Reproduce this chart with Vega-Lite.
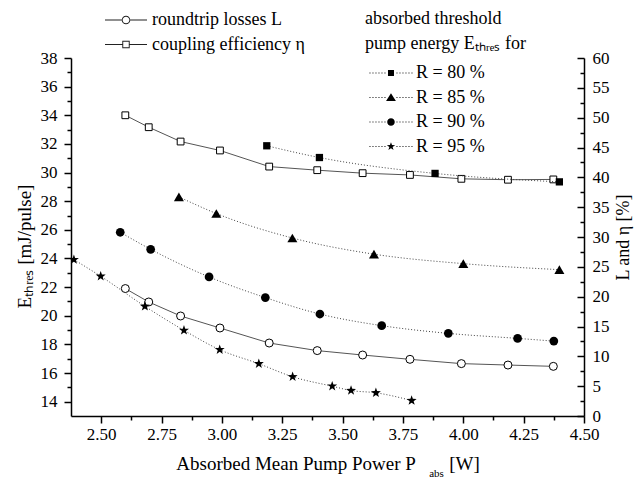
{
  "$schema": "https://vega.github.io/schema/vega-lite/v6.json",
  "width": 513,
  "height": 358,
  "autosize": {"type": "none"},
  "padding": {"left": 71, "top": 58, "right": 55, "bottom": 63},
  "background": "white",
  "config": {
    "view": {"stroke": null},
    "font": "Liberation Serif",
    "axis": {
      "domainColor": "black", "domainWidth": 1.5, "tickColor": "black", "tickWidth": 1.5,
      "labelFont": "Liberation Serif", "labelFontSize": 17, "labelColor": "black",
      "titleFont": "Liberation Serif", "titleFontSize": 19, "titleFontWeight": "normal", "titleColor": "black",
      "grid": false, "labelOverlap": false, "labelFlush": false
    },
    "legend": {
      "labelFont": "Liberation Serif", "labelFontSize": 18, "labelColor": "black",
      "titleFont": "Liberation Serif", "titleFontSize": 18, "titleFontWeight": "normal", "titleColor": "black",
      "padding": 0
    }
  },
  "data": {
    "values": [
      {"series": "coupling efficiency η", "grp": "LE", "P": 2.600, "v": 50.4},
      {"series": "coupling efficiency η", "grp": "LE", "P": 2.697, "v": 48.4},
      {"series": "coupling efficiency η", "grp": "LE", "P": 2.829, "v": 46.0},
      {"series": "coupling efficiency η", "grp": "LE", "P": 2.992, "v": 44.5},
      {"series": "coupling efficiency η", "grp": "LE", "P": 3.196, "v": 41.8},
      {"series": "coupling efficiency η", "grp": "LE", "P": 3.395, "v": 41.2},
      {"series": "coupling efficiency η", "grp": "LE", "P": 3.583, "v": 40.7},
      {"series": "coupling efficiency η", "grp": "LE", "P": 3.779, "v": 40.4},
      {"series": "coupling efficiency η", "grp": "LE", "P": 3.992, "v": 39.75},
      {"series": "coupling efficiency η", "grp": "LE", "P": 4.185, "v": 39.6},
      {"series": "coupling efficiency η", "grp": "LE", "P": 4.373, "v": 39.65},
      {"series": "roundtrip losses L", "grp": "LE", "P": 2.600, "v": 21.36},
      {"series": "roundtrip losses L", "grp": "LE", "P": 2.697, "v": 19.11},
      {"series": "roundtrip losses L", "grp": "LE", "P": 2.829, "v": 16.76},
      {"series": "roundtrip losses L", "grp": "LE", "P": 2.992, "v": 14.75},
      {"series": "roundtrip losses L", "grp": "LE", "P": 3.196, "v": 12.23},
      {"series": "roundtrip losses L", "grp": "LE", "P": 3.395, "v": 10.96},
      {"series": "roundtrip losses L", "grp": "LE", "P": 3.583, "v": 10.22},
      {"series": "roundtrip losses L", "grp": "LE", "P": 3.779, "v": 9.5},
      {"series": "roundtrip losses L", "grp": "LE", "P": 3.992, "v": 8.78},
      {"series": "roundtrip losses L", "grp": "LE", "P": 4.185, "v": 8.54},
      {"series": "roundtrip losses L", "grp": "LE", "P": 4.373, "v": 8.32},
      {"series": "R = 80 %", "grp": "E", "P": 3.186, "v": 31.87},
      {"series": "R = 80 %", "grp": "E", "P": 3.404, "v": 31.05},
      {"series": "R = 80 %", "grp": "E", "P": 3.883, "v": 29.94},
      {"series": "R = 80 %", "grp": "E", "P": 4.398, "v": 29.35},
      {"series": "R = 85 %", "grp": "E", "P": 2.822, "v": 28.3},
      {"series": "R = 85 %", "grp": "E", "P": 2.977, "v": 27.14},
      {"series": "R = 85 %", "grp": "E", "P": 3.292, "v": 25.43},
      {"series": "R = 85 %", "grp": "E", "P": 3.630, "v": 24.3},
      {"series": "R = 85 %", "grp": "E", "P": 4.000, "v": 23.64},
      {"series": "R = 85 %", "grp": "E", "P": 4.398, "v": 23.22},
      {"series": "R = 90 %", "grp": "E", "P": 2.579, "v": 25.83},
      {"series": "R = 90 %", "grp": "E", "P": 2.705, "v": 24.64},
      {"series": "R = 90 %", "grp": "E", "P": 2.947, "v": 22.71},
      {"series": "R = 90 %", "grp": "E", "P": 3.180, "v": 21.27},
      {"series": "R = 90 %", "grp": "E", "P": 3.406, "v": 20.12},
      {"series": "R = 90 %", "grp": "E", "P": 3.662, "v": 19.31},
      {"series": "R = 90 %", "grp": "E", "P": 3.938, "v": 18.77},
      {"series": "R = 90 %", "grp": "E", "P": 4.225, "v": 18.42},
      {"series": "R = 90 %", "grp": "E", "P": 4.375, "v": 18.23},
      {"series": "R = 95 %", "grp": "E", "P": 2.387, "v": 23.92},
      {"series": "R = 95 %", "grp": "E", "P": 2.498, "v": 22.76},
      {"series": "R = 95 %", "grp": "E", "P": 2.681, "v": 20.66},
      {"series": "R = 95 %", "grp": "E", "P": 2.843, "v": 18.98},
      {"series": "R = 95 %", "grp": "E", "P": 2.991, "v": 17.63},
      {"series": "R = 95 %", "grp": "E", "P": 3.153, "v": 16.65},
      {"series": "R = 95 %", "grp": "E", "P": 3.293, "v": 15.74},
      {"series": "R = 95 %", "grp": "E", "P": 3.457, "v": 15.08},
      {"series": "R = 95 %", "grp": "E", "P": 3.535, "v": 14.78},
      {"series": "R = 95 %", "grp": "E", "P": 3.638, "v": 14.62},
      {"series": "R = 95 %", "grp": "E", "P": 3.786, "v": 14.08}
    ]
  },
  "layer": [
    {
      "encoding": {
        "x": {
          "field": "P", "type": "quantitative",
          "scale": {"domain": [2.375, 4.5], "nice": false, "zero": false},
          "axis": {
            "orient": "bottom",
            "title": "Absorbed Mean Pump Power P\u00a0\u00a0\u00a0\u00a0\u00a0\u00a0\u00a0[W]",
            "values": [2.5, 2.75, 3, 3.25, 3.5, 3.75, 4, 4.25, 4.5],
            "format": ".2f",
            "tickSize": 7,
            "labelPadding": 3,
            "titlePadding": 12
          }
        }
      },
      "layer": [
        {
          "encoding": {
            "y": {
              "field": "v", "type": "quantitative",
              "scale": {"domain": [0, 60], "nice": false, "zero": false},
              "axis": {
                "orient": "right",
                "title": "L and η [%]",
                "titleAngle": -90,
                "titleBaseline": "top",
                "titlePadding": 5,
                "titleFontSize": 18,
                "values": [0, 5, 10, 15, 20, 25, 30, 35, 40, 45, 50, 55, 60],
                "ticks": false,
                "tickSize": 0,
                "labelPadding": 8
              }
            }
          },
          "layer": [
            {
              "transform": [{"filter": "datum.grp === 'LE'"}],
              "mark": {"type": "line", "color": "#555", "strokeWidth": 1},
              "encoding": {"detail": {"field": "series", "type": "nominal"}}
            },
            {
              "transform": [{"filter": "datum.series === 'roundtrip losses L'"}],
              "mark": {"type": "point", "shape": "circle", "filled": false, "fill": "white", "stroke": "black", "strokeWidth": 1, "opacity": 1, "size": 64}
            },
            {
              "transform": [{"filter": "datum.series === 'coupling efficiency η'"}],
              "mark": {"type": "point", "shape": "square", "filled": false, "fill": "white", "stroke": "black", "strokeWidth": 1, "opacity": 1, "size": 46}
            },
            {
              "transform": [{"filter": "false"}],
              "mark": {"type": "point", "filled": true, "color": "#222", "opacity": 1},
              "encoding": {
                "shape": {
                  "field": "series", "type": "nominal",
                  "scale": {
                    "domain": ["roundtrip losses L", "coupling efficiency η"],
                    "range": [
                      "M-3.5,-0.09L-0.72,-0.09L-0.72,0.09L-3.5,0.09ZM0.72,-0.09L3.5,-0.09L3.5,0.09L0.72,0.09ZM-0.72,0A0.72,0.72,0,1,1,0.72,0A0.72,0.72,0,1,1,-0.72,0ZM-0.56,0A0.56,0.56,0,1,0,0.56,0A0.56,0.56,0,1,0,-0.56,0Z",
                      "M-3.5,-0.09L-0.62,-0.09L-0.62,0.09L-3.5,0.09ZM0.62,-0.09L3.5,-0.09L3.5,0.09L0.62,0.09ZM-0.62,-0.62L0.62,-0.62L0.62,0.62L-0.62,0.62ZM-0.46,-0.46L-0.46,0.46L0.46,0.46L0.46,-0.46Z"
                    ]
                  },
                  "legend": {
                    "title": null, "orient": "none", "legendX": 46, "legendY": -47,
                    "symbolSize": 144, "labelOffset": 17, "rowPadding": 6.5,
                    "symbolFillColor": "#222", "symbolStrokeColor": "transparent", "symbolStrokeWidth": 0, "symbolOpacity": 1
                  }
                }
              }
            }
          ]
        },
        {
          "transform": [{"filter": "datum.grp === 'LE'"}],
          "mark": {"type": "point", "opacity": 0},
          "encoding": {
            "y": {
              "field": "v", "type": "quantitative",
              "scale": {"domain": [0, 60], "nice": false, "zero": false},
              "axis": {
                "orient": "left", "offset": -513, "title": null, "labels": false, "domain": false,
                "values": [0, 5, 10, 15, 20, 25, 30, 35, 40, 45, 50, 55, 60], "tickSize": 7
              }
            }
          }
        },
        {
          "transform": [{"filter": "datum.grp === 'LE'"}],
          "mark": {"type": "point", "opacity": 0},
          "encoding": {
            "y": {
              "field": "v", "type": "quantitative",
              "scale": {"domain": [0, 60], "nice": false, "zero": false},
              "axis": {
                "orient": "left", "offset": -513, "title": null, "labels": false, "domain": false,
                "values": [2.5, 7.5, 12.5, 17.5, 22.5, 27.5, 32.5, 37.5, 42.5, 47.5, 52.5, 57.5], "tickSize": 4
              }
            }
          }
        }
      ],
      "resolve": {"axis": {"y": "independent"}}
    },
    {
      "encoding": {
        "x": {
          "field": "P", "type": "quantitative",
          "scale": {"domain": [2.375, 4.5], "nice": false, "zero": false},
          "axis": {
            "orient": "bottom", "labels": false, "domain": false,
            "values": [2.625, 2.875, 3.125, 3.375, 3.625, 3.875, 4.125, 4.375],
            "tickSize": 4,
            "title": "abs", "titleFontSize": 11, "titleX": 365, "titleY": 57, "titleAlign": "center", "titleBaseline": "middle", "titleAngle": 0
          }
        }
      },
      "layer": [
        {
          "encoding": {
            "y": {
              "field": "v", "type": "quantitative",
              "scale": {"domain": [13, 38], "nice": false, "zero": false},
              "axis": {
                "orient": "left",
                "title": "Eₜₕᵣₑₛ [mJ/pulse]",
                "titlePadding": 6,
                "titleY": 188,
                "values": [14, 16, 18, 20, 22, 24, 26, 28, 30, 32, 34, 36, 38],
                "tickSize": 7,
                "labelPadding": 7
              }
            }
          },
          "layer": [
            {
              "transform": [{"filter": "datum.grp === 'E'"}],
              "mark": {"type": "line", "interpolate": "monotone", "color": "#444", "strokeWidth": 1, "strokeDash": [1, 2]},
              "encoding": {"detail": {"field": "series", "type": "nominal"}}
            },
            {
              "transform": [{"filter": "datum.series === 'R = 80 %'"}],
              "mark": {"type": "point", "shape": "square", "filled": true, "color": "black", "opacity": 1, "size": 53}
            },
            {
              "transform": [{"filter": "datum.series === 'R = 85 %'"}],
              "mark": {"type": "point", "shape": "triangle-up", "filled": true, "color": "black", "opacity": 1, "size": 100}
            },
            {
              "transform": [{"filter": "datum.series === 'R = 90 %'"}],
              "mark": {"type": "point", "shape": "circle", "filled": true, "color": "black", "opacity": 1, "size": 76}
            },
            {
              "transform": [{"filter": "datum.series === 'R = 95 %'"}],
              "mark": {"type": "point", "shape": "M0,-1L0.2351,-0.3236L0.9511,-0.309L0.3804,0.1236L0.5878,0.809L0,0.4L-0.5878,0.809L-0.3804,0.1236L-0.9511,-0.309L-0.2351,-0.3236Z", "filled": true, "color": "black", "opacity": 1, "size": 110}
            },
            {
              "transform": [{"filter": "false"}],
              "mark": {"type": "point", "filled": true, "color": "black", "opacity": 1},
              "encoding": {
                "shape": {
                  "field": "series", "type": "nominal",
                  "scale": {
                    "domain": ["R = 80 %", "R = 85 %", "R = 90 %", "R = 95 %"],
                    "range": [
                      "M-0.75,-0.08h0.16v0.16h-0.16ZM-0.25,-0.08h0.16v0.16h-0.16ZM0.25,-0.08h0.16v0.16h-0.16ZM0.75,-0.08h0.16v0.16h-0.16ZM1.25,-0.08h0.16v0.16h-0.16ZM1.75,-0.08h0.16v0.16h-0.16ZM3.75,-0.08h0.16v0.16h-0.16ZM4.25,-0.08h0.16v0.16h-0.16ZM4.75,-0.08h0.16v0.16h-0.16ZM5.25,-0.08h0.16v0.16h-0.16ZM5.75,-0.08h0.16v0.16h-0.16ZM6.25,-0.08h0.16v0.16h-0.16ZM2.33,-0.5L3.33,-0.5L3.33,0.5L2.33,0.5Z",
                      "M-0.75,-0.08h0.16v0.16h-0.16ZM-0.25,-0.08h0.16v0.16h-0.16ZM0.25,-0.08h0.16v0.16h-0.16ZM0.75,-0.08h0.16v0.16h-0.16ZM1.25,-0.08h0.16v0.16h-0.16ZM1.75,-0.08h0.16v0.16h-0.16ZM3.75,-0.08h0.16v0.16h-0.16ZM4.25,-0.08h0.16v0.16h-0.16ZM4.75,-0.08h0.16v0.16h-0.16ZM5.25,-0.08h0.16v0.16h-0.16ZM5.75,-0.08h0.16v0.16h-0.16ZM6.25,-0.08h0.16v0.16h-0.16ZM2.83,-0.72L3.65,0.6L2.01,0.6Z",
                      "M-0.75,-0.08h0.16v0.16h-0.16ZM-0.25,-0.08h0.16v0.16h-0.16ZM0.25,-0.08h0.16v0.16h-0.16ZM0.75,-0.08h0.16v0.16h-0.16ZM1.25,-0.08h0.16v0.16h-0.16ZM1.75,-0.08h0.16v0.16h-0.16ZM3.75,-0.08h0.16v0.16h-0.16ZM4.25,-0.08h0.16v0.16h-0.16ZM4.75,-0.08h0.16v0.16h-0.16ZM5.25,-0.08h0.16v0.16h-0.16ZM5.75,-0.08h0.16v0.16h-0.16ZM6.25,-0.08h0.16v0.16h-0.16ZM2.2,0A0.63,0.63,0,1,1,3.46,0A0.63,0.63,0,1,1,2.2,0Z",
                      "M-0.75,-0.08h0.16v0.16h-0.16ZM-0.25,-0.08h0.16v0.16h-0.16ZM0.25,-0.08h0.16v0.16h-0.16ZM0.75,-0.08h0.16v0.16h-0.16ZM1.25,-0.08h0.16v0.16h-0.16ZM1.75,-0.08h0.16v0.16h-0.16ZM3.75,-0.08h0.16v0.16h-0.16ZM4.25,-0.08h0.16v0.16h-0.16ZM4.75,-0.08h0.16v0.16h-0.16ZM5.25,-0.08h0.16v0.16h-0.16ZM5.75,-0.08h0.16v0.16h-0.16ZM6.25,-0.08h0.16v0.16h-0.16ZM2.83,-0.72L3.0,-0.23L3.52,-0.22L3.1,0.09L3.26,0.58L2.83,0.29L2.4,0.58L2.56,0.09L2.14,-0.22L2.66,-0.23Z"
                    ]
                  },
                  "legend": {
                    "title": ["absorbed threshold", "pump energy  Eₜₕᵣₑₛ for"],
                    "orient": "none", "legendX": 294, "legendY": -48,
                    "symbolSize": 144, "labelOffset": 33, "rowPadding": 6.5,
                    "titlePadding": 11, "titleLineHeight": 25,
                    "symbolFillColor": "black", "symbolStrokeColor": "transparent", "symbolStrokeWidth": 0, "symbolOpacity": 1
                  }
                }
              }
            }
          ]
        },
        {
          "transform": [{"filter": "datum.grp === 'E'"}],
          "mark": {"type": "point", "opacity": 0},
          "encoding": {
            "y": {
              "field": "v", "type": "quantitative",
              "scale": {"domain": [13, 38], "nice": false, "zero": false},
              "axis": {
                "orient": "left", "title": null, "labels": false, "domain": false,
                "values": [15, 17, 19, 21, 23, 25, 27, 29, 31, 33, 35, 37], "tickSize": 4
              }
            }
          }
        }
      ],
      "resolve": {"axis": {"y": "independent"}}
    }
  ],
  "resolve": {"scale": {"y": "independent", "shape": "independent"}, "axis": {"x": "independent"}}
}
